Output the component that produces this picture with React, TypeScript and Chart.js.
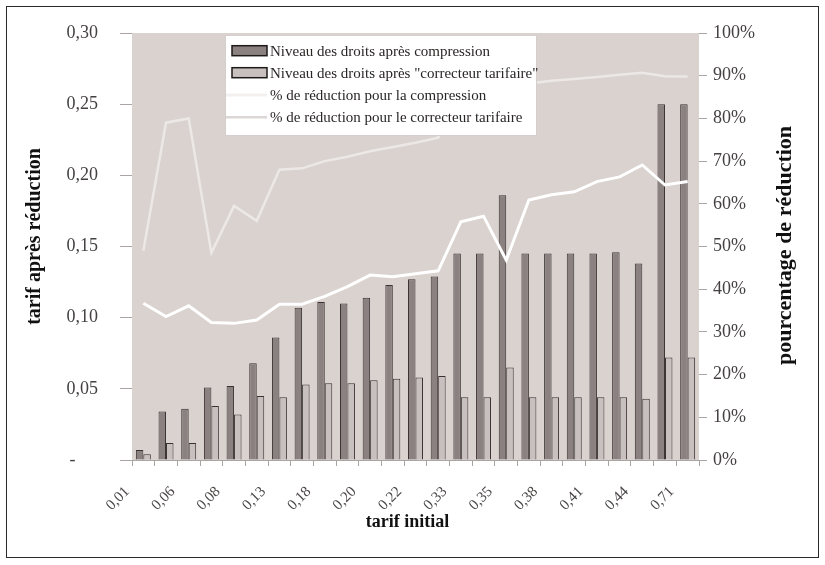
import React, { useEffect, useRef } from 'react';
import { Chart, registerables } from 'chart.js';

Chart.register(...registerables);

// Tarif initial par ligne tarifaire (une étiquette sur deux est affichée)
const categories = [
  '0,01', '0,05', '0,06', '0,07', '0,08', '0,10', '0,13', '0,17', '0,18', '0,19',
  '0,20', '0,21', '0,22', '0,23', '0,33', '0,34', '0,35', '0,37', '0,38', '0,39',
  '0,41', '0,43', '0,44', '0,70', '0,71',
];

// Niveau des droits après compression
const droitsCompression = [
  0.007, 0.034, 0.036, 0.051, 0.052, 0.068, 0.086, 0.107, 0.111, 0.110,
  0.114, 0.123, 0.127, 0.129, 0.145, 0.145, 0.186, 0.145, 0.145, 0.145,
  0.145, 0.146, 0.138, 0.25, 0.25,
];

// Niveau des droits après "correcteur tarifaire"
const droitsCorrecteur = [
  0.004, 0.012, 0.012, 0.038, 0.032, 0.045, 0.044, 0.053, 0.054, 0.054,
  0.056, 0.057, 0.058, 0.059, 0.044, 0.044, 0.065, 0.044, 0.044, 0.044,
  0.044, 0.044, 0.043, 0.072, 0.072,
];

// % de réduction pour la compression
const reductionCompression = [
  36.7, 33.6, 36.1, 32.2, 32.0, 32.8, 36.5, 36.5, 38.3, 40.6,
  43.3, 42.9, 43.6, 44.3, 55.8, 57.1, 46.8, 60.9, 62.1, 62.8,
  65.2, 66.3, 69.1, 64.4, 65.2,
];

// % de réduction pour le correcteur tarifaire
const reductionCorrecteur = [
  49.0, 79.0, 80.0, 48.5, 59.5, 56.0, 68.0, 68.3, 70.0, 71.0,
  72.3, 73.3, 74.3, 75.5, 86.6, 87.0, 81.4, 88.2, 88.8, 89.2,
  89.7, 90.2, 90.7, 89.9, 89.8,
];

const SERIF = '"Liberation Serif", "DejaVu Serif", serif';

const W = 825;
const H = 565;

// Fond gris de la zone de tracé
const plotBackground = {
  id: 'plotBackground',
  beforeDraw(chart: any) {
    const { ctx, chartArea } = chart;
    ctx.save();
    ctx.fillStyle = '#d9d2cf';
    ctx.fillRect(chartArea.left, chartArea.top, chartArea.right - chartArea.left, chartArea.bottom - chartArea.top);
    ctx.restore();
  },
};

// Légende encadrée posée sur la zone de tracé, par-dessus les courbes
const boxedLegend = {
  id: 'boxedLegend',
  afterDatasetsDraw(chart: any) {
    const { ctx, chartArea } = chart;
    const x0 = chartArea.left + 93;
    const y0 = chartArea.top + 2;
    const w = 312;
    const h = 101;
    ctx.save();
    ctx.fillStyle = '#ffffff';
    ctx.fillRect(x0, y0, w, h);
    ctx.strokeStyle = '#d4cfcd';
    ctx.lineWidth = 1;
    ctx.strokeRect(x0 + 0.5, y0 + 0.5, w - 1, h - 1);

    const rows = [15.7, 37.7, 60, 82.3];
    ctx.font = `15px ${SERIF}`;
    ctx.textBaseline = 'middle';
    ctx.textAlign = 'left';
    chart.data.datasets.forEach((ds: any, i: number) => {
      const cy = y0 + rows[i];
      if (ds.type === 'line') {
        ctx.strokeStyle = ds.legendColor;
        ctx.lineWidth = ds.borderWidth;
        ctx.beginPath();
        ctx.moveTo(x0 + 1, cy);
        ctx.lineTo(x0 + 42, cy);
        ctx.stroke();
      } else {
        ctx.fillStyle = ds.backgroundColor;
        ctx.fillRect(x0 + 7, cy - 5, 35, 10);
        ctx.strokeStyle = '#1e1a1a';
        ctx.lineWidth = 1.5;
        ctx.strokeRect(x0 + 7, cy - 5, 35, 10);
      }
      ctx.fillStyle = '#2a2626';
      ctx.fillText(ds.label, x0 + 45, cy + 1);
    });
    ctx.restore();
  },
};

// Titres des axes
const axisTitles = {
  id: 'axisTitles',
  afterDraw(chart: any) {
    const { ctx, chartArea } = chart;
    const midY = (chartArea.top + chartArea.bottom) / 2;
    const midX = (chartArea.left + chartArea.right) / 2;
    ctx.save();
    ctx.fillStyle = '#111111';
    ctx.textAlign = 'center';
    ctx.textBaseline = 'middle';

    ctx.font = `bold 20px ${SERIF}`;
    ctx.save();
    ctx.translate(35, midY - 10);
    ctx.rotate(-Math.PI / 2);
    ctx.fillText('tarif après réduction', 0, 0);
    ctx.restore();

    ctx.font = `bold 22px ${SERIF}`;
    ctx.save();
    ctx.translate(785, midY - 1);
    ctx.rotate(-Math.PI / 2);
    ctx.fillText('pourcentage de réduction', 0, 0);
    ctx.restore();

    ctx.font = `bold 18px ${SERIF}`;
    ctx.fillText('tarif initial', midX - 8, 522);
    ctx.restore();
  },
};

export default function App() {
  const canvasRef = useRef<HTMLCanvasElement | null>(null);

  useEffect(() => {
    if (!canvasRef.current) return;
    const tickFont = { family: SERIF, size: 18 };
    const chart = new Chart(canvasRef.current, {
      data: {
        labels: categories,
        datasets: [
          {
            type: 'bar',
            label: 'Niveau des droits après compression',
            data: droitsCompression,
            backgroundColor: '#8b8180',
            borderColor: '#3a3232',
            borderWidth: 1,
            yAxisID: 'y',
            order: 2,
          },
          {
            type: 'bar',
            label: 'Niveau des droits après "correcteur tarifaire"',
            data: droitsCorrecteur,
            backgroundColor: '#c8c0be',
            borderColor: '#3a3232',
            borderWidth: 1,
            yAxisID: 'y',
            order: 2,
          },
          {
            type: 'line',
            label: '% de réduction pour la compression',
            data: reductionCompression,
            borderColor: '#ffffff',
            legendColor: '#f3f1f0',
            borderWidth: 3,
            pointRadius: 0,
            tension: 0,
            yAxisID: 'y1',
            order: 1,
          } as any,
          {
            type: 'line',
            label: '% de réduction pour le correcteur tarifaire',
            data: reductionCorrecteur,
            borderColor: '#ece8e6',
            legendColor: '#dcd7d5',
            borderWidth: 2.5,
            pointRadius: 0,
            tension: 0,
            yAxisID: 'y1',
            order: 1,
          } as any,
        ],
      },
      options: {
        responsive: false,
        animation: false,
        devicePixelRatio: 1,
        layout: { padding: { left: 6, right: 6, top: 33, bottom: 6 } },
        datasets: {
          bar: { categoryPercentage: 0.66, barPercentage: 1.0 },
        },
        plugins: {
          legend: { display: false },
          tooltip: { enabled: false },
        },
        scales: {
          x: {
            type: 'category',
            offset: true,
            grid: { offset: true, drawOnChartArea: false, drawTicks: true, tickLength: 6, color: '#aaa4a2' },
            border: { display: true, color: '#aaa4a2' },
            ticks: {
              autoSkip: false,
              maxRotation: 45,
              minRotation: 45,
              padding: 17,
              labelOffset: -16,
              color: '#4a4646',
              font: { family: SERIF, size: 15 },
              callback: (_v: any, i: number) => (i % 2 === 0 ? categories[i] : ''),
            },
            afterFit: (s: any) => { s.height = H - 6 - 460; },
          },
          y: {
            type: 'linear',
            position: 'left',
            min: 0,
            max: 0.3,
            grid: { drawOnChartArea: false, drawTicks: true, tickLength: 12, color: '#aaa4a2' },
            border: { display: false },
            ticks: {
              stepSize: 0.05,
              padding: 22,
              color: '#454141',
              font: tickFont,
              callback: (v: any) => (Number(v) === 0 ? '-     ' : Number(v).toFixed(2).replace('.', ',')),
            },
            afterFit: (s: any) => { s.width = 132 - 6; },
          },
          y1: {
            type: 'linear',
            position: 'right',
            min: 0,
            max: 100,
            grid: { drawOnChartArea: false, drawTicks: true, tickLength: 8, color: '#aaa4a2' },
            border: { display: false },
            ticks: {
              stepSize: 10,
              padding: 6,
              color: '#454141',
              font: tickFont,
              callback: (v: any) => `${v}%`,
            },
            afterFit: (s: any) => { s.width = W - 6 - 699; },
          },
        },
      },
      plugins: [plotBackground, boxedLegend, axisTitles],
    } as any);
    return () => chart.destroy();
  }, []);

  return (
    <div style={{ position: 'absolute', left: 0, top: 0, width: W, height: H, background: '#ffffff' }}>
      <canvas ref={canvasRef} width={W} height={H} style={{ position: 'absolute', left: 0, top: 0 }} />
      <div
        style={{
          position: 'absolute',
          left: 6,
          top: 6,
          width: 813,
          height: 552,
          boxSizing: 'border-box',
          border: '1px solid #2a2a2a',
          pointerEvents: 'none',
        }}
      />
    </div>
  );
}
